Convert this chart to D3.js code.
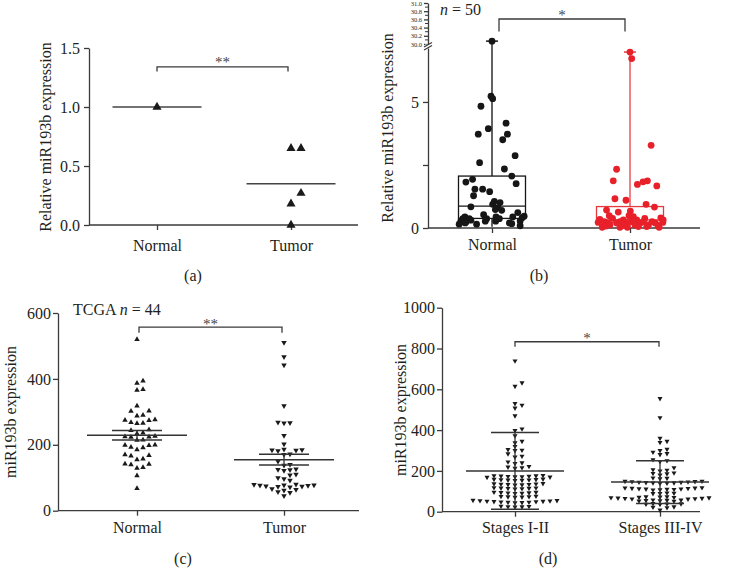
<!DOCTYPE html>
<html><head><meta charset="utf-8">
<script src="https://cdn.jsdelivr.net/npm/d3@7"></script>
<style>body{margin:0;background:#fff}svg{display:block;background:#fff}</style>
</head><body><svg id="chart" width="733" height="569"></svg>
<script>
// ================= DATA =================
// Panel (a)
const categoriesA = ["Normal", "Tumor"];
const normalA = [1.0];
const tumorA = [0.65, 0.65, 0.27, 0.18, 0.0];
const meansA = [1.0, 0.35];
const ticksA = [0, 0.5, 1.0, 1.5];
const signifA = "**";

// Panel (b)
const categoriesB = ["Normal", "Tumor"];
const normalB = [30.07,5.23,5.13,4.83,4.16,3.94,3.72,3.72,3.50,2.87,2.59,2.34,2.06,1.93,1.82,1.76,1.54,1.54,1.44,1.28,1.06,1.01,0.94,0.81,0.84,0.70,0.73,0.53,0.61,0.47,0.44,0.44,0.37,0.37,0.37,0.28,0.28,0.24,0.27,0.27,0.20,0.15,0.15,0.09,0.20,0.44,0.41,0.17,0.37,0.31];
const normalJitterB = [0,-0.03,0.02,-0.33,0.42,-0.11,-0.41,0.46,0.32,0.69,-0.37,0.37,0.59,-0.58,-0.78,0.72,-0.51,-0.28,-0.07,-0.55,0.07,0.24,0.02,0.17,-0.63,0.29,0.10,-0.25,0.77,0.96,0.62,-0.81,-0.87,-0.68,-0.16,-0.93,0.84,-0.78,-0.2,0.11,0.52,-0.98,-0.46,0.84,-0.8,0.12,0.9,0.59,0.22,-0.63];
const tumorB = [6.98,6.72,3.28,2.33,1.87,1.83,1.87,1.73,1.67,1.16,1.10,0.94,0.83,0.71,0.63,0.67,0.49,0.49,0.45,0.38,0.40,0.34,0.38,0.32,0.32,0.25,0.22,0.22,0.25,0.25,0.22,0.19,0.12,0.12,0.08,0.03,0.03,0.03,0.25,0.12,0.2,0.2,0.2,0.25,0.32,0.12,0.06,0.06,0.08,0.03];
const tumorJitterB = [0,0.05,0.63,-0.4,-0.5,0.39,0.52,0.22,0.8,-0.45,-0.12,0.48,0.73,-0.7,-0.35,0.01,-0.62,-0.03,0.1,0.44,0.92,-0.9,-0.52,-0.2,0.2,0.66,0.98,-0.95,-0.77,-0.3,-0.1,0.3,0.55,-0.6,0.84,-0.83,-0.3,0.87,0.05,0.15,-0.4,0.75,-0.65,0.4,0.99,-0.18,0.5,0.25,-0.72,-0.08];
const boxMinB = [0.05, 0.0];
const boxQ1B = [0.38, 0.22];
const boxMedianB = [0.87, 0.32];
const boxQ3B = [2.06, 0.85];
const boxMaxB = [30.07, 6.98];
const ticksBLow = [0, 2.5, 5];
const labelsBLow = ["0", "", "5"];
const ticksBHigh = [30.0, 30.2, 30.4, 30.6, 30.8, 31.0];
const minorTicksBHigh = [30.1, 30.3, 30.5, 30.7, 30.9];
const signifB = "*";

// Panel (c)
const categoriesC = ["Normal", "Tumor"];
const normalC = [520,394,387,368,366,318,303,302,290,288,276,275,274,268,266,265,246,244,236,234,226,225,224,223,215,214,200,199,198,193,191,185,170,168,166,157,155,142,141,140,131,129,106,68];
const tumorC = [510,467,442,318,268,267,266,228,202,186,185,184,183,182,172,170,150,140,138,126,125,124,122,110,108,100,97,92,80,79,78,78,77,76,75,74,73,72,66,64,62,57,55,45];
const meansC = [229, 155];
const semC = [14.5, 16.5];
const ticksC = [0, 200, 400, 600];
const signifC = "**";

// Panel (d)
const categoriesD = ["Stages I-II", "Stages III-IV"];
const stagesEarly = [739,632,615,530,522,508,470,406,398,372,345,338,320,305,302,300,284,272,268,244,240,236,222,219,216,213,
  178,177,176,175,174,173,172,171,170,169,160,159,158,157,156,155,154,153,
  138,137,136,135,134,133,132,131,118,117,116,115,114,113,112,
  96,95,94,93,92,91,90,76,75,74,73,72,71,
  56,55,54,53,52,51,50,49,48,47,46,45,44,27,26,25,24,23];
const stagesLate = [555,461,360,345,340,306,300,292,285,280,255,250,246,216,206,204,200,190,188,186,180,166,164,162,
  150,149,148,147,146,145,144,143,142,141,140,139,
  118,117,116,115,114,113,112,111,110,109,108,107,
  92,91,90,89,74,73,72,71,70,69,68,67,66,65,64,63,62,
  58,57,56,55,54,53,52,40,39,38,37,36,24,22,20,8];
const meansD = [200, 145];
const sdD = [188, 105];
const ticksD = [0, 200, 400, 600, 800, 1000];
const signifD = "*";

// ================= DRAWING =================
const FONT = '"Liberation Serif","Times New Roman",serif';
const AX = "#3a3a3a";
const TXT = "#231f20";
const svg = d3.select("#chart");
svg.append("rect").attr("width", 733).attr("height", 569).attr("fill", "#fff");

function styleAxis(g) {
  g.attr("font-family", FONT).attr("font-size", 16);
  g.selectAll("path.domain").attr("stroke", AX).attr("stroke-width", 1.3);
  g.selectAll(".tick line").attr("stroke", AX).attr("stroke-width", 1.3);
  g.selectAll(".tick text").attr("fill", TXT);
}
function line(x1, y1, x2, y2, color, w) {
  svg.append("line").attr("x1", x1).attr("y1", y1).attr("x2", x2).attr("y2", y2)
    .attr("stroke", color || AX).attr("stroke-width", w || 1.3);
}
function text(x, y, s, opts) {
  opts = opts || {};
  const t = svg.append("text").attr("x", x).attr("y", y).text(s)
    .attr("font-family", FONT).attr("font-size", opts.size || 16)
    .attr("fill", opts.fill || TXT).attr("text-anchor", opts.anchor || "middle");
  if (opts.rotate) t.attr("transform", `rotate(-90,${x},${y})`).attr("dy", "0.35em");
  return t;
}
function yAxis(scale, x, ticks, fmt, pad) {
  const g = svg.append("g").attr("transform", `translate(${x},0)`)
    .call(d3.axisLeft(scale).tickValues(ticks).tickFormat(fmt).tickSize(5).tickPadding(pad).tickSizeOuter(0));
  styleAxis(g);
}
function xAxis(scale, y, x0, x1, pad) {
  line(x0, y, x1, y);
  const g = svg.append("g").attr("transform", `translate(0,${y})`)
    .call(d3.axisBottom(scale).tickSize(5).tickPadding(pad).tickSizeOuter(0));
  g.select("path.domain").remove();
  styleAxis(g);
}
function bracket(x1, x2, y, drop, label, labelY) {
  svg.append("path").attr("d", `M${x1},${y + drop}V${y}H${x2}V${y + drop}`)
    .attr("fill", "none").attr("stroke", AX).attr("stroke-width", 1.3);
  text((x1 + x2) / 2, labelY, label, { size: 15, fill: "#444" });
}
// greedy beeswarm: offsets in px so markers do not overlap
function swarm(values, y, w, h, step) {
  const order = values.map((v, i) => i).sort((a, b) => values[a] - values[b]);
  const placed = [], off = new Array(values.length);
  for (const i of order) {
    const py = y(values[i]);
    for (let k = 0; k < 2000; k++) {
      const c = k === 0 ? 0 : (k % 2 ? 1 : -1) * Math.ceil(k / 2) * step;
      if (!placed.some(p => Math.abs(p.x - c) < w && Math.abs(p.y - py) < h)) {
        off[i] = c; placed.push({ x: c, y: py }); break;
      }
    }
  }
  return off;
}
function triangles(values, cx, y, area, down, w, h) {
  const off = swarm(values, y, w, h, 0.5);
  const sym = d3.symbol().type(d3.symbolTriangle).size(area);
  svg.append("g").selectAll("path").data(values).join("path")
    .attr("d", sym)
    .attr("transform", (d, i) => `translate(${cx + off[i]},${y(d)})${down ? " rotate(180)" : ""}`)
    .attr("fill", "#1a1a1a");
}

// ---------- Panel (a) ----------
{
  const y = d3.scaleLinear().domain([0, 1.5]).range([225, 48]);
  const x = d3.scalePoint().domain(categoriesA).range([157, 291]);
  yAxis(y, 89, ticksA, d3.format(".1f"), 4);
  xAxis(x, y(0), 89, 358, 10);
  [normalA, tumorA].forEach((vals, i) => {
    const cx = x(categoriesA[i]);
    line(cx - 44.5, y(meansA[i]), cx + 44.5, y(meansA[i]), "#444", 1.5);
    triangles(vals, cx, y, 36, false, 10, 12);
  });
  bracket(x(categoriesA[0]), x(categoriesA[1]) - 3, y(1.34), 4.5, signifA, 67);
  text(45, 137, "Relative miR193b expression", { rotate: true });
  text(193, 281, "(a)");
}

// ---------- Panel (b) ----------
{
  const yLow = d3.scaleLinear().domain([0, 7.14]).range([228, 48]);
  const yHigh = d3.scaleLinear().domain([30, 31]).range([44, 3]);
  const yB = v => (v >= 30 ? yHigh(v) : yLow(v));
  const x = d3.scalePoint().domain(categoriesB).range([492, 630]);
  const axX = 428;
  yAxis(yLow, axX, ticksBLow, (d, i) => labelsBLow[i], 4);
  // upper segment of broken axis
  const gh = svg.append("g").attr("transform", `translate(${axX},0)`)
    .call(d3.axisLeft(yHigh).tickValues(ticksBHigh).tickFormat(d3.format(".1f")).tickSize(4).tickPadding(2).tickSizeOuter(0));
  styleAxis(gh);
  gh.attr("font-size", 6.5);
  svg.append("g").selectAll("line").data(minorTicksBHigh).join("line")
    .attr("x1", axX - 3).attr("x2", axX).attr("y1", d => yHigh(d)).attr("y2", d => yHigh(d))
    .attr("stroke", AX).attr("stroke-width", 1);
  // break marks
  svg.append("rect").attr("x", axX - 3).attr("y", 44.5).attr("width", 6).attr("height", 3).attr("fill", "#fff");
  line(axX - 4, 47, axX + 4, 42.5, AX, 1.2);
  line(axX - 4, 50, axX + 4, 45.5, AX, 1.2);
  xAxis(x, yLow(0), axX, 700, 6);

  const groups = [
    { vals: normalB, jit: normalJitterB, col: "#161616", box: "#161616", wh: "#3a3a3a" },
    { vals: tumorB, jit: tumorJitterB, col: "#e8202a", box: "#e53a40", wh: "#ea6268" }
  ];
  const half = 33.5;
  groups.forEach((g, i) => {
    const cx = x(categoriesB[i]);
    line(cx, yB(boxMinB[i]), cx, yB(boxQ1B[i]), g.wh, 1.6);
    line(cx, yB(boxQ3B[i]), cx, yB(boxMaxB[i]), g.wh, 1.6);
    line(cx - 6, yB(boxMaxB[i]), cx + 6, yB(boxMaxB[i]), g.box, 1.5);
    svg.append("rect").attr("x", cx - half).attr("y", yB(boxQ3B[i]))
      .attr("width", 2 * half).attr("height", yB(boxQ1B[i]) - yB(boxQ3B[i]))
      .attr("fill", "none").attr("stroke", g.box).attr("stroke-width", 1.3);
    line(cx - half, yB(boxMedianB[i]), cx + half, yB(boxMedianB[i]), g.box, 1.3);
    svg.append("g").selectAll("circle").data(g.vals).join("circle")
      .attr("cx", (d, j) => cx + g.jit[j] * half)
      .attr("cy", d => yB(d))
      .attr("r", 3.4).attr("fill", g.col);
  });
  bracket(x(categoriesB[0]) + 7, x(categoriesB[1]) - 5, 19, 12.5, signifB, 20);
  const t = text(440, 15, "", { anchor: "start" });
  t.append("tspan").attr("font-style", "italic").text("n");
  t.append("tspan").text(" = 50");
  text(387, 128, "Relative miR193b expression", { rotate: true });
  text(539, 281, "(b)");
}

// ---------- Panel (c) ----------
{
  const y = d3.scaleLinear().domain([0, 600]).range([510.7, 313]);
  const x = d3.scalePoint().domain(categoriesC).range([137, 284]);
  yAxis(y, 58, ticksC, d3.format("d"), 2);
  xAxis(x, y(0), 58, 359, 6);
  [normalC, tumorC].forEach((vals, i) => {
    const cx = x(categoriesC[i]);
    triangles(vals, cx, y, 13, i === 1, 5.9, 5);
    line(cx - 50, y(meansC[i]), cx + 50, y(meansC[i]), "#333", 1.5);
    line(cx - 25, y(meansC[i] + semC[i]), cx + 25, y(meansC[i] + semC[i]), "#333", 1.5);
    line(cx - 25, y(meansC[i] - semC[i]), cx + 25, y(meansC[i] - semC[i]), "#333", 1.5);
    line(cx, y(meansC[i] + semC[i]), cx, y(meansC[i] - semC[i]), "#333", 1.3);
  });
  bracket(x(categoriesC[0]) + 2, x(categoriesC[1]) - 2, y(557), 5.5, signifC, 329);
  const t = text(73, 315, "TCGA ", { anchor: "start" });
  t.append("tspan").attr("font-style", "italic").text("n");
  t.append("tspan").text(" = 44");
  text(10, 412, "miR193b expression", { rotate: true });
  text(183, 564, "(c)");
}

// ---------- Panel (d) ----------
{
  const y = d3.scaleLinear().domain([0, 1000]).range([511.7, 307.7]);
  const x = d3.scalePoint().domain(categoriesD).range([515, 660]);
  yAxis(y, 442, ticksD, d3.format("d"), 2);
  xAxis(x, y(0), 442, 700, 5);
  [stagesEarly, stagesLate].forEach((vals, i) => {
    const cx = x(categoriesD[i]);
    triangles(vals, cx, y, 11, true, 6.7, 3.6);
    line(cx - 49, y(meansD[i]), cx + 49, y(meansD[i]), "#333", 1.5);
    line(cx - 24, y(meansD[i] + sdD[i]), cx + 24, y(meansD[i] + sdD[i]), "#333", 1.6);
    line(cx - 24, y(meansD[i] - sdD[i]), cx + 24, y(meansD[i] - sdD[i]), "#333", 1.6);
    line(cx, y(meansD[i] + sdD[i]), cx, y(meansD[i] - sdD[i]), "#333", 1.3);
  });
  bracket(x(categoriesD[0]), x(categoriesD[1]) - 1, y(833), 5, signifD, 343);
  text(400, 410, "miR193b expression", { rotate: true });
  text(548, 564, "(d)");
}
</script></body></html>
